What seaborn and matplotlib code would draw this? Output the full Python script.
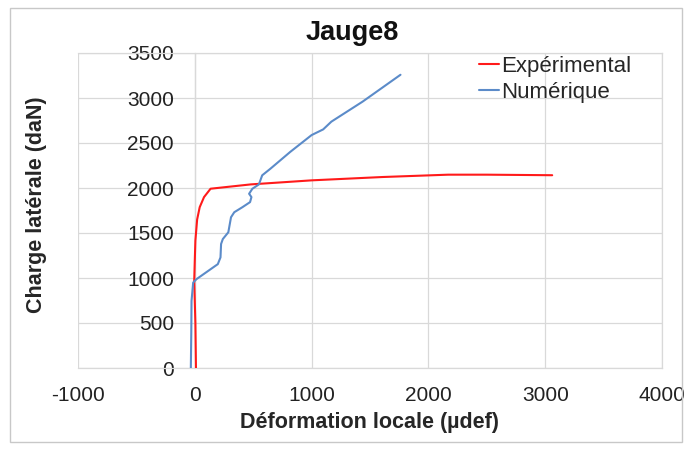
import pandas as pd
import seaborn as sns
import matplotlib.pyplot as plt
from matplotlib.patches import Rectangle

# Expérimental curve (strain in microdef, load in daN)
exp_x = [10, 5, -5, 0, 5, 20, 42, 79, 135, 479, 1000, 1606, 2169, 2500, 3060]
exp_y = [0, 500, 968, 1200, 1415, 1650, 1787, 1899, 1992, 2040, 2085, 2122, 2148, 2148, 2142]

# Numérique curve
num_x = [-34, -30, -28, -14, 14, 197, 220, 225, 240, 287, 310, 338, 408, 473, 485,
         465, 493, 549, 577, 648, 817, 1000, 1099, 1169, 1437, 1761]
num_y = [0, 400, 745, 949, 987, 1154, 1229, 1378, 1433, 1508, 1675, 1731, 1787, 1843, 1899,
         1936, 1992, 2040, 2141, 2215, 2401, 2588, 2651, 2737, 2960, 3258]

x_ticks = [-1000, 0, 1000, 2000, 3000, 4000]
y_ticks = [0, 500, 1000, 1500, 2000, 2500, 3000, 3500]

df = pd.concat([
    pd.DataFrame({'x': exp_x, 'y': exp_y, 'serie': 'Expérimental'}),
    pd.DataFrame({'x': num_x, 'y': num_y, 'serie': 'Numérique'}),
])

sns.set_style('white')
plt.rcParams['font.family'] = ['Liberation Sans', 'DejaVu Sans']
plt.rcParams['axes.unicode_minus'] = False

fig = plt.figure(figsize=(6.92, 4.5), dpi=100)
ax = fig.add_axes([78 / 692, 1 - 368 / 450, 584 / 692, 315 / 450])

sns.lineplot(data=df, x='x', y='y', hue='serie', sort=False, estimator=None,
             palette={'Expérimental': '#FF1A1A', 'Numérique': '#5B8BC9'},
             linewidth=1.5, ax=ax, zorder=3)

ax.set_xlim(-1000, 4000)
ax.set_ylim(0, 3500)
ax.set_xticks(x_ticks)
ax.set_yticks(y_ticks)
ax.tick_params(labelsize=15, length=0, colors='#222222')
ax.tick_params(axis='x', pad=13)
ax.tick_params(axis='y', pad=15)
ax.grid(True, color='#D9D9D9', linewidth=0.9)
for s in ax.spines.values():
    s.set_color('#D9D9D9')
    s.set_linewidth(0.9)
    s.set_zorder(1)
# vertical axis crosses at x = 0, as in the original chart
ax.spines['left'].set_position(('data', 0))

ax.set_title('Jauge8', fontsize=19.5, fontweight='bold', pad=9, color='#111111', x=0.469)
ax.set_xlabel('Déformation locale (µdef)', fontsize=15.5, fontweight='bold', labelpad=5)
ax.set_ylabel('Charge latérale (daN)', fontsize=15.5, fontweight='bold')
ax.yaxis.set_label_coords(-0.053, 0.517)

leg = ax.legend(loc='upper left', bbox_to_anchor=(0.668, 1.025), frameon=False,
                fontsize=16, handlelength=0.9, handletextpad=0.1, labelspacing=0.2,
                borderpad=0)

# grey frame around the whole chart
fig.patches.append(Rectangle((10 / 692, 1 - 442 / 450), 672 / 692, 434 / 450,
                             transform=fig.transFigure, fill=False,
                             edgecolor='#C8C8C8', linewidth=1))

fig.savefig('out.png', dpi=100)
